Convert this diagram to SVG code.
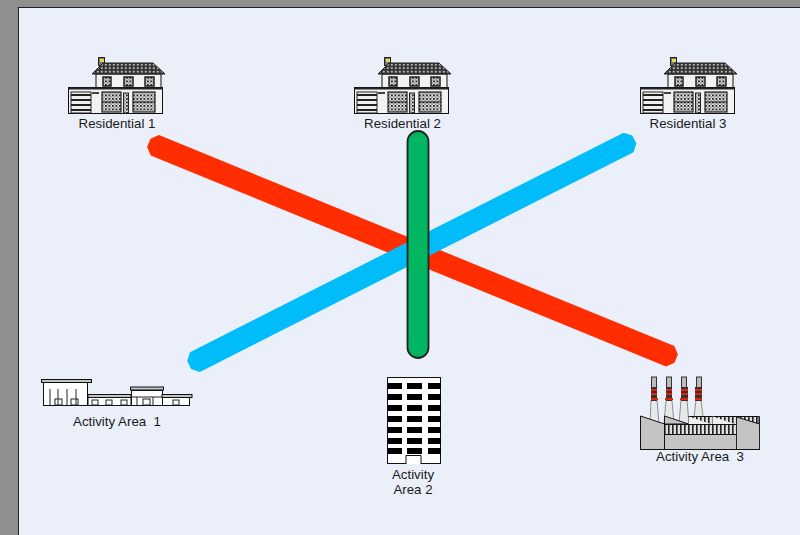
<svg xmlns="http://www.w3.org/2000/svg" width="800" height="535" viewBox="0 0 800 535">
<style>
text{font-family:"Liberation Sans",Arial,sans-serif;font-size:13.300px;fill:#1a1a1a;text-anchor:middle}
.k{stroke:#111;stroke-width:1;fill:#fff}
.w{stroke:#111;stroke-width:1;fill:#f2f2f2}
.g{stroke:#111;stroke-width:1;fill:#c4c4c4}
.b{fill:#000}
.n{stroke:#222;stroke-width:1;fill:none}
.stack{fill:#e8e8e8;stroke:#777;stroke-width:.8}
.cap{fill:#bbb;stroke:#333;stroke-width:1}
.band{fill:#333}
.red{fill:#e8200c}
</style>
<defs>
<pattern id="roof" width="4" height="3.500" patternUnits="userSpaceOnUse"><rect width="4" height="3.500" fill="#333"/><rect x=".8" y=".8" width="2" height="1.700" fill="#bbb"/></pattern>
<pattern id="pane" width="3.500" height="3.500" patternUnits="userSpaceOnUse"><rect width="3.500" height="3.500" fill="#ddd"/><rect width="1.800" height="1.800" fill="#222"/><rect x="2" y="2" width="1.200" height="1.200" fill="#555"/></pattern>
<pattern id="slat" width="4" height="10" patternUnits="userSpaceOnUse"><rect width="4" height="10" fill="#ddd"/><rect width="1.600" height="10" fill="#222"/></pattern>
<g id="house">
<rect x="98.500" y="57.500" width="6" height="8" fill="#777" stroke="#222"/><rect x="100" y="59" width="4" height="3" fill="#e8d850"/>
<rect x="96" y="74" width="65" height="15" class="w"/>
<path d="M103 63H153L165 74H92Z" fill="url(#roof)" stroke="#222"/>
<rect x="103" y="77" width="8" height="9" fill="url(#pane)" stroke="#222" stroke-width="1.500"/>
<rect x="124" y="77" width="9" height="9" fill="url(#pane)" stroke="#222" stroke-width="1.500"/>
<rect x="145" y="77" width="9" height="9" fill="url(#pane)" stroke="#222" stroke-width="1.500"/>
<rect x="68.500" y="87.500" width="94" height="26" class="w"/>
<path d="M68 88.500H163" stroke="#222" stroke-width="2" fill="none"/>
<rect x="71" y="92" width="20" height="21" fill="#eee" stroke="#222"/>
<path d="M71 95H91M71 100H91M71 105H91M71 110H91" stroke="#222" stroke-width="2"/>
<rect x="92" y="92" width="7" height="2" fill="#444"/>
<rect x="102" y="92" width="19" height="20" fill="url(#pane)" stroke="#222" stroke-width="1.200"/>
<path d="M102 102H121" stroke="#222"/>
<rect x="133" y="92" width="22" height="20" fill="url(#pane)" stroke="#222" stroke-width="1.200"/>
<path d="M133 102H155" stroke="#222"/>
<rect x="123.500" y="93" width="5" height="20" fill="url(#pane)" stroke="#222"/>
</g>
</defs>
<rect width="800" height="535" fill="#8f8f8f"/>
<rect x="18.500" y="7.500" width="790" height="540" fill="#ebeff9" stroke="#222"/>

<g id="connectors">
<polygon points="159,135.100 674.300,346 677.900,354.500 674.500,362.800 666,366.400 150.700,155.500 147.100,147 150.500,138.700" fill="#ff2d00"/>
<polygon points="623.600,132.700 632.300,135.500 636.400,143.600 633.500,152.300 199.900,371.900 191.200,369.100 187.200,361 190,352.200" fill="#00bcf9"/>
<rect x="407.500" y="131" width="21" height="227" rx="10.500" fill="#00b661" stroke="#222" stroke-width="1.800"/>
</g>

<g id="residential-1"><use href="#house"/><text x="117" y="128">Residential 1</text></g>
<g id="residential-2"><use href="#house" x="286"/><text x="402.500" y="128">Residential 2</text></g>
<g id="residential-3"><use href="#house" x="572"/><text x="688" y="128">Residential 3</text></g>

<g id="activity-area-1">
<rect x="41.500" y="379.500" width="50" height="3" class="g"/>
<rect x="43.500" y="382.500" width="44" height="23" class="k"/>
<path d="M50 389V405M58 389V405M67 389V405M76 389V405" class="n"/>
<rect x="55" y="399" width="7" height="6" class="n"/><rect x="71" y="399" width="7" height="6" class="n"/>
<rect x="88" y="394.500" width="43" height="3" class="g"/>
<rect x="88" y="397.500" width="43" height="8" class="k"/>
<rect x="92" y="400" width="6" height="5" class="n"/><rect x="106" y="400" width="6" height="5" class="n"/><rect x="121" y="400" width="6" height="5" class="n"/>
<rect x="130.500" y="387" width="33" height="3" class="g"/>
<rect x="131.500" y="390.500" width="31" height="15" class="k"/>
<path d="M131 397H162M137 397V405M153 397V405" class="n"/>
<rect x="143" y="399" width="7" height="6" class="n"/>
<rect x="162" y="394.500" width="30" height="3" class="g"/>
<rect x="162.500" y="397.500" width="27" height="8" class="k"/>
<rect x="173" y="400" width="6" height="5" class="n"/>
<text x="117" y="426">Activity Area&#160; 1</text>
</g>

<g id="activity-area-2">
<rect x="387.500" y="377.500" width="53" height="86" class="k"/>
<g class="b">
<rect x="388" y="383" width="14" height="6"/><rect x="407" y="383" width="15" height="6"/><rect x="428" y="383" width="13" height="6"/>
<rect x="388" y="394" width="14" height="6"/><rect x="407" y="394" width="15" height="6"/><rect x="428" y="394" width="13" height="6"/>
<rect x="388" y="405" width="14" height="6"/><rect x="407" y="405" width="15" height="6"/><rect x="428" y="405" width="13" height="6"/>
<rect x="388" y="416" width="14" height="6"/><rect x="407" y="416" width="15" height="6"/><rect x="428" y="416" width="13" height="6"/>
<rect x="388" y="427" width="14" height="6"/><rect x="407" y="427" width="15" height="6"/><rect x="428" y="427" width="13" height="6"/>
<rect x="388" y="438" width="14" height="6"/><rect x="407" y="438" width="15" height="6"/><rect x="428" y="438" width="13" height="6"/>
<rect x="388" y="448" width="14" height="6"/><rect x="407" y="448" width="15" height="6"/><rect x="428" y="448" width="13" height="6"/>
</g>
<path d="M406 464V455.500H421V464" class="k"/>
<text x="413" y="479">Activity</text>
<text x="413" y="494">Area 2</text>
</g>

<g id="activity-area-3">
<g id="stacks">
<path class="stack" d="M651 400L650 424H659L657 400Z"/><rect class="cap" x="651.500" y="377" width="5" height="11"/><rect class="band" x="651" y="387" width="6" height="14"/><rect class="red" x="651" y="389" width="6" height="2"/><rect class="red" x="651" y="393" width="6" height="2"/><rect class="red" x="651" y="398" width="7" height="2"/>
<path class="stack" d="M666 400L664 424H674L672 400Z"/><rect class="cap" x="666.500" y="377" width="5" height="11"/><rect class="band" x="666" y="387" width="6" height="14"/><rect class="red" x="666" y="389" width="6" height="2"/><rect class="red" x="666" y="393" width="6" height="2"/><rect class="red" x="665" y="398" width="8" height="2"/>
<path class="stack" d="M681 400L679 424H689L687 400Z"/><rect class="cap" x="681.500" y="377" width="5" height="11"/><rect class="band" x="681" y="387" width="7" height="14"/><rect class="red" x="681" y="389" width="7" height="2"/><rect class="red" x="681" y="393" width="7" height="2"/><rect class="red" x="680" y="398" width="8" height="2"/>
<path class="stack" d="M696 400L694 417H703L701 400Z"/><rect class="cap" x="696.500" y="377" width="5" height="11"/><rect class="band" x="695" y="387" width="7" height="14"/><rect class="red" x="695" y="389" width="7" height="2"/><rect class="red" x="695" y="393" width="7" height="2"/><rect class="red" x="695" y="398" width="7" height="2"/>
</g>
<path d="M640.500 416L664.500 424V449.500H640.500Z" class="g"/>
<path d="M664.500 416L688.500 424H664.500Z" class="g"/>
<rect x="688.500" y="416.500" width="70.500" height="8" fill="url(#slat)" stroke="#111"/>
<path d="M688.500 416.500L712.500 424.500H688.500Z" fill="#eee"/>
<path d="M712.500 416.500L736.500 424.500H712.500Z" fill="#eee"/>
<rect x="664.500" y="424.500" width="72" height="10" fill="url(#slat)" stroke="#111"/>
<rect x="664.500" y="434.500" width="72" height="15" class="g"/>
<path d="M736.500 417L759.500 424V449.500H736.500Z" class="g"/>
<path d="M759.500 416.500V449.500M736.500 416.500V449.500" class="n"/>
<path d="M640 449.500H760" stroke="#111" stroke-width="1.200"/>
<text x="700" y="461">Activity Area&#160; 3</text>
</g>
</svg>
